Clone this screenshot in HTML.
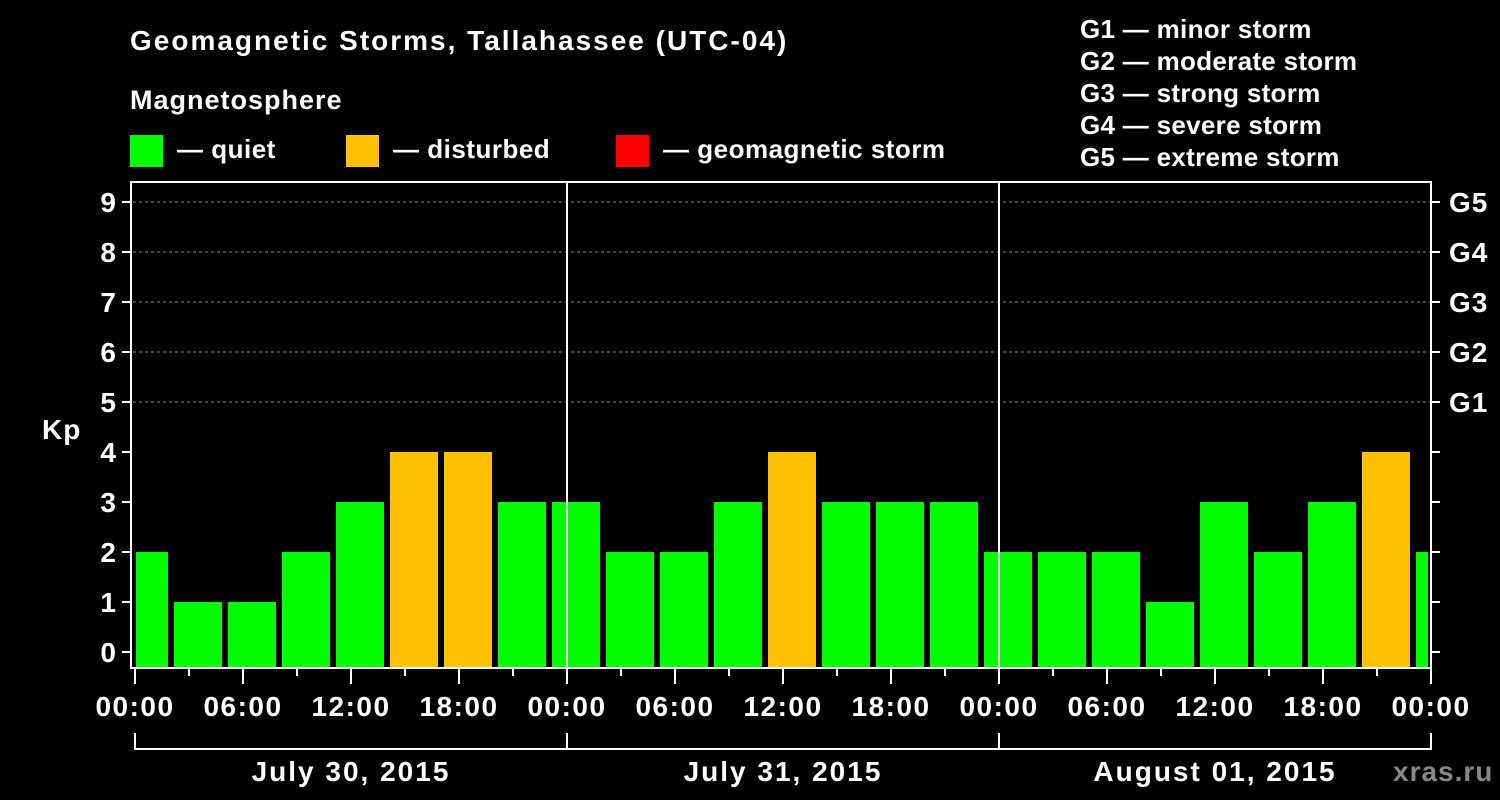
<!DOCTYPE html>
<html><head><meta charset="utf-8"><style>
html,body{margin:0;padding:0;background:#000;}
svg{display:block;font-family:"Liberation Sans",sans-serif;font-weight:bold;}
</style></head><body>
<svg id="chart" width="1500" height="800" xmlns="http://www.w3.org/2000/svg">
<text x="130" y="50" fill="#fff" font-size="28" letter-spacing="2">Geomagnetic Storms, Tallahassee (UTC-04)</text>
<text x="130" y="109" fill="#fff" font-size="27" letter-spacing="1">Magnetosphere</text>
<g font-size="26" letter-spacing="0.5" fill="#fff">
<g><rect x="130" y="135" width="33" height="32" fill="#00ff00"/><text x="177" y="158">— quiet</text></g>
<g><rect x="346" y="135" width="33" height="32" fill="#ffc000"/><text x="393" y="158">— disturbed</text></g>
<g><rect x="616" y="135" width="33" height="32" fill="#ff0000"/><text x="663" y="158">— geomagnetic storm</text></g>
</g>
<g fill="#fff" font-size="26" letter-spacing="0.3">
<text x="1080" y="38">G1 — minor storm</text>
<text x="1080" y="70">G2 — moderate storm</text>
<text x="1080" y="102">G3 — strong storm</text>
<text x="1080" y="134">G4 — severe storm</text>
<text x="1080" y="166">G5 — extreme storm</text>
</g>
<text x="42" y="439" fill="#fff" font-size="28" letter-spacing="1">Kp</text>
<text x="1393" y="781" fill="#888" font-size="28" letter-spacing="1">xras.ru</text>
<g id="grid"></g><g id="bars"></g><g id="axes"></g>
</svg>
<script>
const startHours=[-1,2,5,8,11,14,17,20,23,26,29,32,35,38,41,44,47,50,53,56,59,62,65,68,71];
const kpValues=[2,1,1,2,3,4,4,3,3,2,2,3,4,3,3,3,2,2,2,1,3,2,3,4,2];
const yTicks=[0,1,2,3,4,5,6,7,8,9];
const gLabels=["G1","G2","G3","G4","G5"];
const xTickLabels=["00:00","06:00","12:00","18:00","00:00","06:00","12:00","18:00","00:00","06:00","12:00","18:00","00:00"];
const dayLabels=["July 30, 2015","July 31, 2015","August 01, 2015"];
const NS="http://www.w3.org/2000/svg";
const L=133,R=1431,T=182,B=667;
const x=h=>135+h*18;
const y=v=>652-v*50;
function mk(tag,attrs,parent,txt){const e=document.createElementNS(NS,tag);for(const k in attrs)e.setAttribute(k,attrs[k]);if(txt!==undefined)e.textContent=txt;document.getElementById(parent).appendChild(e);return e;}
for(let v=5;v<=9;v++){const e=mk('line',{x1:L,x2:R,y1:y(v),y2:y(v),stroke:'#888','stroke-dasharray':'3,3','stroke-width':1},'grid');

}
startHours.forEach((h,i)=>{let x0=Math.max(x(h)+3,136),x1=Math.min(x(h+3)-3,1428);const v=kpValues[i];
const col=v>=5?'#ff0000':(v>=4?'#ffc000':'#00ff00');
const e=mk('rect',{x:x0,y:y(v),width:x1-x0,height:B-y(v),fill:col},'bars');

});
const f=mk('rect',{x:131,y:T,width:R-131,height:B-T+1,fill:'none',stroke:'#fff','stroke-width':2},'axes');


for(let d=1;d<=2;d++){const e=mk('line',{x1:x(24*d),x2:x(24*d),y1:T,y2:B,stroke:'#fff','stroke-width':2},'axes');

}
yTicks.forEach(v=>{mk('line',{x1:122,x2:131,y1:y(v),y2:y(v),stroke:'#fff','stroke-width':2},'axes');
mk('line',{x1:1431,x2:1440,y1:y(v),y2:y(v),stroke:'#fff','stroke-width':2},'axes');
const t=mk('text',{x:116,y:y(v)+10,fill:'#fff','font-size':28,'text-anchor':'end'},'axes',v);

});
gLabels.forEach((g,i)=>{const t=mk('text',{x:1449,y:y(5+i)+10,fill:'#fff','font-size':28,'letter-spacing':1},'axes',g);

});
for(let h=0;h<=72;h+=3){const maj=h%6===0;mk('line',{x1:x(h),x2:x(h),y1:668,y2:maj?684:676,stroke:'#fff','stroke-width':2},'axes');}
xTickLabels.forEach((s,i)=>{const t=mk('text',{x:x(i*6),y:716,fill:'#fff','font-size':28,'letter-spacing':1.5,'text-anchor':'middle'},'axes',s);

});
mk('line',{x1:x(0),x2:x(72),y1:749,y2:749,stroke:'#fff','stroke-width':2},'axes');
for(let d=0;d<=3;d++)mk('line',{x1:x(24*d),x2:x(24*d),y1:733,y2:750,stroke:'#fff','stroke-width':2},'axes');
dayLabels.forEach((s,i)=>{const t=mk('text',{x:x(24*i+12),y:781,fill:'#fff','font-size':28,'letter-spacing':2,'text-anchor':'middle'},'axes',s);

});
</script>
</body></html>
